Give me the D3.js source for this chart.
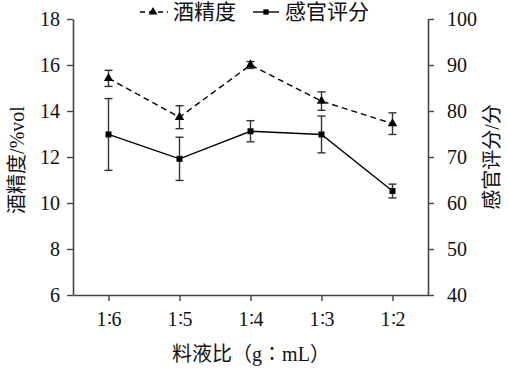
<!DOCTYPE html>
<html><head><meta charset="utf-8">
<script src="https://cdnjs.cloudflare.com/ajax/libs/d3/7.8.5/d3.min.js"></script>
<style>body{margin:0;background:#fff}svg{display:block}</style>
</head><body><svg id="c" width="509" height="369"></svg>
<script>
const categories = ["1:6","1:5","1:4","1:3","1:2"];
const alcohol = [15.42, 13.73, 16.0, 14.43, 13.45];
const alcoholErr = [0.35, 0.5, 0.15, 0.4, 0.47];
const sensory = [74.9, 69.6, 75.6, 74.9, 62.6];
const sensoryErr = [7.8, 4.7, 2.3, 4.0, 1.5];
const leftTicks = [6, 8, 10, 12, 14, 16, 18];
const rightTicks = [40, 50, 60, 70, 80, 90, 100];

const svg = d3.select("#c");
const L = 73, R = 428, T = 19, B = 295;
const serif = "'Liberation Serif','Times New Roman',serif";
const cjk = "'Liberation Serif','Noto Sans CJK SC',serif";
const x = d3.scalePoint().domain(categories).range([L, R]).padding(0.5);
const yL = d3.scaleLinear().domain([6, 18]).range([B, T]);
const yR = d3.scaleLinear().domain([40, 100]).range([B, T]);
const axCol = "#444";

function styleAxis(g){
  g.attr("font-family", serif).attr("font-size", 20);
  g.selectAll(".domain").attr("stroke", axCol).attr("stroke-width", 1.6);
  g.selectAll(".tick line").attr("stroke", axCol).attr("stroke-width", 1.4);
  g.selectAll(".tick text").attr("fill", "#111");
}
const gx = svg.append("g").attr("transform", `translate(0,${B})`)
  .call(d3.axisBottom(x).tickSize(6).tickSizeOuter(0).tickPadding(11));
styleAxis(gx);
gx.selectAll(".tick text").text(d => d.replace(":", "∶"));
const gl = svg.append("g").attr("transform", `translate(${L},0)`)
  .call(d3.axisLeft(yL).tickValues(leftTicks).tickSize(6).tickSizeOuter(0).tickPadding(7));
styleAxis(gl);
const gr = svg.append("g").attr("transform", `translate(${R},0)`)
  .call(d3.axisRight(yR).tickValues(rightTicks).tickSize(6).tickSizeOuter(0).tickPadding(13));
styleAxis(gr);

// axis titles
svg.append("text").attr("transform", `translate(24,160) rotate(-90)`)
  .attr("text-anchor", "middle").style("font-family", cjk).style("font-size", "20px").attr("fill", "#111")
  .text("酒精度/%vol");
svg.append("text").attr("transform", `translate(499,157) rotate(-90)`)
  .attr("text-anchor", "middle").style("font-family", cjk).style("font-size", "20px").attr("fill", "#111")
  .text("感官评分/分");
svg.append("text").attr("x", 251).attr("y", 361).attr("text-anchor", "middle")
  .style("font-family", cjk).style("font-size", "20px").attr("fill", "#111")
  .text("料液比（g∶mL）");

function drawSeries(vals, errs, y, dash, shape){
  const g = svg.append("g");
  const line = d3.line().x((d,i) => x(categories[i])).y(d => y(d));
  g.append("path").datum(vals).attr("d", line).attr("fill", "none").attr("stroke", "#000")
    .attr("stroke-width", 1.4).attr("stroke-dasharray", dash);
  vals.forEach((v, i) => {
    const cx = x(categories[i]);
    const eg = g.append("g").attr("stroke", "#333").attr("stroke-width", 1.4);
    eg.append("line").attr("x1", cx).attr("x2", cx).attr("y1", y(v + errs[i])).attr("y2", y(v - errs[i]));
    eg.append("line").attr("x1", cx-4).attr("x2", cx+4).attr("y1", y(v + errs[i])).attr("y2", y(v + errs[i]));
    eg.append("line").attr("x1", cx-4).attr("x2", cx+4).attr("y1", y(v - errs[i])).attr("y2", y(v - errs[i]));
  });
  g.selectAll("path.m").data(vals).enter().append("path").attr("class", "m")
    .attr("d", d3.symbol().type(shape).size(shape === d3.symbolTriangle ? 38 : 36))
    .attr("transform", (d,i) => `translate(${x(categories[i])},${y(d)})`)
    .attr("fill", "#000");
}
drawSeries(alcohol, alcoholErr, yL, "6,4", d3.symbolTriangle);
drawSeries(sensory, sensoryErr, yR, null, d3.symbolSquare);

// legend
const lg = svg.append("g");
lg.append("line").attr("x1", 140).attr("x2", 168).attr("y1", 12).attr("y2", 12)
  .attr("stroke", "#000").attr("stroke-width", 1.4).attr("stroke-dasharray", "5,4");
lg.append("path").attr("d", d3.symbol().type(d3.symbolTriangle).size(34)).attr("transform", "translate(153,12)");
lg.append("text").attr("x", 173).attr("y", 19).style("font-family", cjk).style("font-size", "21px").attr("fill", "#111").text("酒精度");
lg.append("line").attr("x1", 253).attr("x2", 279).attr("y1", 12).attr("y2", 12)
  .attr("stroke", "#000").attr("stroke-width", 1.4);
lg.append("path").attr("d", d3.symbol().type(d3.symbolSquare).size(28)).attr("transform", "translate(266,12)");
lg.append("text").attr("x", 285).attr("y", 19).style("font-family", cjk).style("font-size", "21px").attr("fill", "#111").text("感官评分");
</script></body></html>
